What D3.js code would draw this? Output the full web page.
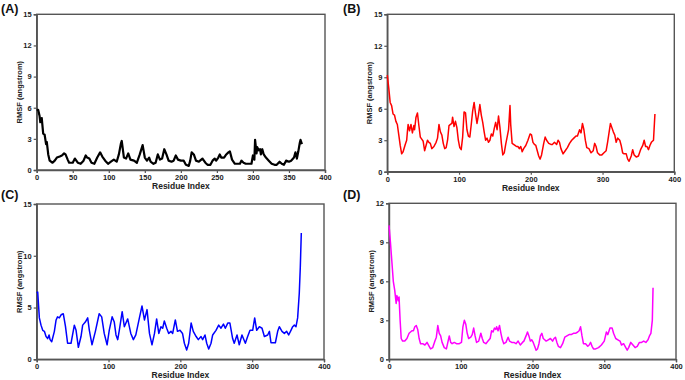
<!DOCTYPE html>
<html>
<head>
<meta charset="utf-8">
<script src="https://cdn.jsdelivr.net/npm/d3@7"></script>
<style>
  body { margin: 0; background: #fff; }
  text { font-family: "Liberation Sans", Arial, sans-serif; }
</style>
</head>
<body>
<svg id="chart" width="685" height="380"></svg>
<script>
// ---- data (residue index, RMSF in angstrom) ----
const resA = [0,2,4,5,7,9,11,13,14,16,18,22,25,28,32,35,38,40,43,45,50,53,57,61,65,68,70,73,76,80,84,88,91,95,99,103,107,111,114,117,118,121,124,127,130,135,139,143,147,150,153,156,158,162,165,168,171,174,177,180,183,187,190,193,196,200,204,207,211,213,215,218,221,225,230,234,237,241,244,247,249,252,254,256,260,263,266,268,271,275,279,282,284,287,290,295,298,300,302,303,305,306,308,310,311,313,315,318,322,326,330,333,337,340,343,346,350,353,357,359,361,363,365,366,368];
const rmsfA = [5.8,5.8,5.2,4.6,5.0,3.5,3.4,2.5,2.7,1.5,0.9,0.7,0.9,1.2,1.3,1.4,1.6,1.5,1.0,0.7,0.7,1.1,0.7,0.6,0.9,1.4,1.2,1.1,0.7,0.6,1.2,1.7,1.3,0.9,0.6,0.8,1.0,0.8,1.5,2.6,2.8,1.2,1.1,1.6,1.0,0.9,0.7,1.5,2.4,1.2,0.9,1.2,0.8,0.6,0.7,1.5,1.0,1.1,2.0,1.5,0.9,0.8,0.9,1.4,1.0,0.9,0.9,0.5,0.4,0.9,1.7,1.5,0.9,0.8,1.1,0.7,0.5,0.5,0.9,1.1,0.9,1.2,1.5,1.2,1.2,1.5,1.7,1.8,1.0,0.6,0.6,0.6,0.9,0.7,0.6,0.6,0.6,1.4,1.0,2.9,1.6,2.2,1.9,2.0,1.5,2.0,1.5,1.2,0.9,0.6,0.5,0.5,0.8,0.6,0.5,0.9,0.8,0.9,1.2,1.7,1.1,1.8,2.6,2.9,2.5];

const resB = [0,2,4,6,8,10,12,14,16,18,20,22,25,27,28,29,31,33,35,37,38,40,42,44,46,48,50,52,54,56,58,60,62,65,68,70,72,74,76,78,80,82,84,86,88,90,91,93,95,97,99,101,103,105,107,109,111,113,115,117,119,121,123,125,127,129,131,133,135,137,139,141,143,145,147,149,151,153,155,157,159,161,163,165,167,169,171,172,174,176,178,180,182,184,186,188,190,193,196,199,201,203,205,207,209,211,213,215,218,220,222,225,228,230,233,236,238,240,242,245,248,251,254,257,260,263,265,268,270,272,274,276,278,281,284,287,289,291,293,296,299,302,305,307,309,311,313,315,317,319,321,324,326,328,330,333,335,337,340,342,344,347,350,353,356,358,360,362,364,366,368,371,373];
const rmsfB = [9.2,8.0,6.6,6.3,5.5,5.4,4.8,4.5,3.5,2.5,1.7,1.9,2.6,3.0,3.8,4.5,3.9,4.5,3.7,4.4,4.0,5.2,5.6,4.4,3.3,3.1,2.9,2.0,2.5,3.0,2.8,2.7,2.2,2.4,2.8,3.2,4.5,3.8,3.5,2.7,2.2,2.3,3.0,4.4,4.5,4.6,5.2,4.3,4.8,4.2,3.0,2.3,2.1,3.3,5.7,5.6,4.0,3.4,3.3,4.5,5.8,6.6,5.5,4.6,5.4,6.4,5.4,4.7,3.8,3.0,3.2,2.8,3.0,3.6,3.4,4.1,4.7,4.0,5.3,4.2,2.7,1.6,1.8,2.6,3.3,4.0,6.3,4.5,2.7,2.6,2.5,2.4,2.4,2.2,2.4,1.9,2.2,2.5,3.0,3.6,3.5,2.8,2.6,2.5,2.0,1.5,1.2,1.6,2.7,3.3,3.0,2.7,2.6,2.6,2.8,2.6,3.0,2.8,2.2,1.7,2.0,2.3,2.7,3.0,3.2,3.4,3.4,4.0,3.7,4.6,4.0,3.0,2.3,2.2,1.8,2.0,2.7,2.4,1.8,1.6,1.6,1.8,2.0,2.8,3.7,4.6,4.2,3.8,3.5,2.8,3.2,3.0,2.5,1.8,1.7,1.7,1.2,1.0,1.5,2.1,1.6,1.4,1.5,2.1,2.5,3.0,2.4,2.4,2.1,2.5,2.8,3.0,5.5];

const resC = [0,1.4,3.7,6,8.4,10.7,13,15.3,17.2,18.6,20.9,24.6,27,29,31.5,34,37,40,43,47.8,52.4,54.8,58,61.7,64,67.7,71,73.3,77,81.7,87,90.5,94,98,101,105,108,110.4,112.8,115,119,122,126.7,131,134.6,138,143,146.6,150,153.6,157,160.5,164,167,170,173,175.4,177.7,181,183.8,187,189.3,193,196,199.5,203,205.6,208.8,211.6,215,218,222,225,228.8,231,234.3,236.7,239.5,242.7,245,249.6,253.4,256.6,260,262.6,266,269,272.8,275,278.9,282,285.8,290.5,293.7,297,300.7,303.5,306.3,310,313.7,317,321.6,324,326.2,332.3,335.5,337.8,341.5,344.8,348,350.8,354,356.4,358.7,361,363.3,365.6,367,368.4];
const rmsfC = [6.4,6.5,4.0,3.3,2.8,2.7,2.2,2.0,2.35,1.9,1.7,2.7,3.8,4.1,4.0,4.3,4.4,3.2,1.55,1.55,3.3,2.8,1.16,2.2,3.3,3.6,4.0,2.8,1.4,2.7,4.4,4.1,2.5,1.4,2.8,4.1,3.6,2.35,1.9,2.8,4.6,3.15,3.9,2.5,1.9,2.35,4.0,5.15,3.8,4.8,2.5,1.4,2.5,3.9,2.5,3.15,3.0,3.7,3.0,2.5,2.7,2.5,3.8,2.7,2.8,2.5,1.55,0.9,1.55,3.5,2.7,2.2,1.9,2.2,1.9,2.35,1.55,1.0,1.55,2.35,2.8,3.3,3.0,3.4,3.0,3.5,3.5,2.0,1.55,2.35,1.4,2.35,1.55,2.2,2.8,2.8,4.0,2.8,3.15,3.0,2.2,2.35,2.7,1.6,1.6,2.7,3.15,2.7,2.5,2.7,2.35,2.8,3.15,3.3,3.15,4.0,6.4,8.9,12.2];

const resD = [0,2,4,6,8,10,11,13,14,15.5,17,19,22,25,28,30,32,34,36,38,40,42,44,47,50,53,56,58,61,64,66,68,70,72,74,77,80,82,84,86,88,91,94,98,101,103,105,107,109,111,114,116,118,120,122,125,128,130,132,135,138,141,143,145,147,149,150,152,154,156,158,160,163,166,168,171,174,177,180,183,186,188,191,193,195,197,199,201,203,205,207,209,211,213,215,217,219,222,225,228,230,232,234,236,239,242,245,248,251,254,257,260,263,265,267,269,271,274,277,279,281,283,285,288,292,296,300,303,305,308,311,313,316,319,322,324,327,330,332,334,337,340,343,346,349,352,355,358,361,363,365,367,368];
const rmsfD = [10.3,9.0,7.5,6.0,5.3,4.3,4.9,4.5,4.8,3.0,1.6,1.4,1.4,1.6,2.0,2.1,2.2,2.2,2.5,2.6,2.3,1.6,1.2,1.2,1.1,1.3,1.0,0.8,0.9,1.4,1.7,2.6,2.0,1.8,1.3,0.9,0.8,1.3,1.8,1.3,1.2,1.3,1.2,1.2,1.3,2.5,3.0,2.7,2.0,1.6,1.7,1.9,2.4,1.8,1.3,1.4,2.0,1.6,1.3,1.2,1.4,1.6,2.2,2.1,2.4,2.3,2.5,2.2,2.6,2.0,1.5,1.2,1.3,1.7,1.4,1.3,1.3,1.2,1.4,1.1,1.3,1.4,1.8,2.1,1.8,1.4,1.5,1.3,1.0,0.7,0.8,1.2,1.8,2.0,1.6,1.5,1.4,1.5,1.6,1.4,1.6,1.7,1.3,1.0,0.9,1.2,1.7,1.8,1.9,1.9,2.0,2.0,2.1,2.2,2.5,1.8,1.2,1.2,1.0,1.1,1.3,1.0,0.8,0.8,0.9,1.1,1.4,2.1,1.9,2.4,2.4,2.0,1.6,1.5,1.4,1.1,1.2,0.9,0.7,0.9,1.3,1.1,0.9,1.0,1.3,1.3,1.4,1.3,1.5,1.8,2.0,3.0,5.5];

const xTicksA = [0,50,100,150,200,250,300,350,400];
const xTicks = [0,100,200,300,400];
const yTicks15by3 = [0,3,6,9,12,15];
const yTicks15by5 = [0,5,10,15];
const yTicks12 = [0,3,6,9,12];

const panels = [
    { tag: "(A)", res: resA, rmsf: rmsfA, color: "#000000", width: 2.2, yMax: 15, yTicks: yTicks15by3, xTicks: xTicksA,
      left: 36.7, right: 325, top: 14.3, bottom: 170, tagX: 1, tagY: 13 },
    { tag: "(B)", res: resB, rmsf: rmsfB, color: "#ff0000", width: 1.5, yMax: 15, yTicks: yTicks15by3, xTicks: xTicks,
      left: 387.3, right: 674.3, top: 14.3, bottom: 171.7, tagX: 343, tagY: 13 },
    { tag: "(C)", res: resC, rmsf: rmsfC, color: "#0000ff", width: 1.5, yMax: 15, yTicks: yTicks15by5, xTicks: xTicks,
      left: 36.7, right: 324, top: 204, bottom: 359.3, tagX: 1, tagY: 199 },
    { tag: "(D)", res: resD, rmsf: rmsfD, color: "#ff00ff", width: 1.5, yMax: 12, yTicks: yTicks12, xTicks: xTicks,
      left: 389, right: 676, top: 203.3, bottom: 359.3, tagX: 343, tagY: 199 }
];

const svg = d3.select("#chart");

function drawPanel(p) {
    const g = svg.append("g");
    const x = d3.scaleLinear().domain([0, 400]).range([p.left, p.right]);
    const y = d3.scaleLinear().domain([0, p.yMax]).range([p.bottom, p.top]);

    // frame
    g.append("rect")
        .attr("x", p.left).attr("y", p.top)
        .attr("width", p.right - p.left).attr("height", p.bottom - p.top)
        .attr("fill", "none").attr("stroke", "#555").attr("stroke-width", 1.4);

    // axes
    const xAxis = g.append("g")
        .attr("transform", `translate(0,${p.bottom})`)
        .call(d3.axisBottom(x).tickValues(p.xTicks).tickSize(3).tickPadding(1.5));
    const yAxis = g.append("g")
        .attr("transform", `translate(${p.left},0)`)
        .call(d3.axisLeft(y).tickValues(p.yTicks).tickSize(3).tickPadding(2));
    [xAxis, yAxis].forEach(a => {
        a.select(".domain").attr("stroke", "#555").attr("stroke-width", 1.4);
        a.selectAll(".tick line").attr("stroke", "#555").attr("stroke-width", 1.2);
        a.selectAll(".tick text")
            .attr("font-family", "Liberation Sans, Arial, sans-serif")
            .attr("font-size", 7.5).attr("font-weight", "bold").attr("fill", "#222");
    });

    // line
    const pts = p.res.map((r, i) => [r, p.rmsf[i]]);
    const line = d3.line().x(d => x(d[0])).y(d => y(d[1]));
    g.append("path")
        .datum(pts)
        .attr("fill", "none")
        .attr("stroke", p.color)
        .attr("stroke-width", p.width)
        .attr("stroke-linejoin", "round")
        .attr("d", line);

    // axis titles
    g.append("text")
        .attr("x", (p.left + p.right) / 2).attr("y", p.bottom + 19)
        .attr("text-anchor", "middle")
        .attr("font-size", 8.5).attr("font-weight", "bold").attr("fill", "#222")
        .text("Residue Index");
    g.append("text")
        .attr("transform", `translate(${p.left - 15},${(p.top + p.bottom) / 2}) rotate(-90)`)
        .attr("text-anchor", "middle")
        .attr("font-size", 7.5).attr("font-weight", "bold").attr("fill", "#222")
        .text("RMSF (angstrom)");

    // panel tag
    g.append("text")
        .attr("x", p.tagX).attr("y", p.tagY)
        .attr("font-family", "DejaVu Sans, sans-serif")
        .attr("font-size", 12.5).attr("font-weight", "bold").attr("fill", "#111")
        .text(p.tag);
}

panels.forEach(drawPanel);
</script>
</body>
</html>
